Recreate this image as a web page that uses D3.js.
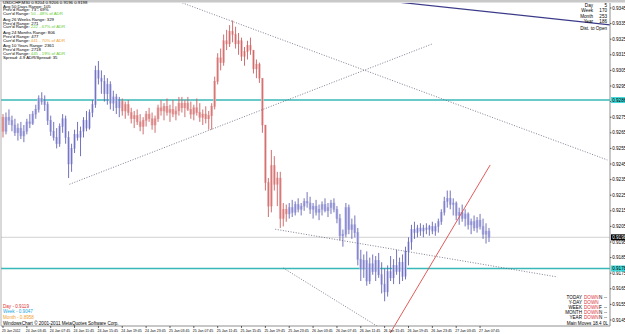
<!DOCTYPE html>
<html><head><meta charset="utf-8">
<script src="https://cdn.jsdelivr.net/npm/d3@7"></script>
<style>html,body{margin:0;padding:0;background:#fff;overflow:hidden}svg{display:block}
text{font-family:"Liberation Sans",Arial,sans-serif}</style>
</head><body><svg id="c" width="625" height="334"></svg>
<script>
const timeLabels = ["23 Jan 2012","24 Jan 03:45","24 Jan 07:45","24 Jan 11:45","24 Jan 15:45","24 Jan 19:45","24 Jan 23:45","25 Jan 03:45","25 Jan 07:45","25 Jan 11:45","25 Jan 15:45","25 Jan 19:45","25 Jan 23:45","26 Jan 03:45","26 Jan 07:45","26 Jan 11:45","26 Jan 15:45","26 Jan 19:45","26 Jan 23:45","27 Jan 03:45","27 Jan 07:45"];
const timeLabelBars = [0,8,16,24,32,40,48,56,64,72,80,88,96,104,112,120,128,136,144,152,160];
const priceTicks = [0.9145,0.9155,0.9165,0.9175,0.9185,0.9195,0.9205,0.9215,0.9225,0.9235,0.9245,0.9255,0.9265,0.9275,0.9285,0.9295,0.9305,0.9315,0.9325,0.9335,0.9345];
const high = [.9277,.9278,.9280,.9276,.9274,.9271,.9272,.9270,.9274,.9277,
.9279,.9283,.9289,.9291,.9289,.9285,.9276,.9272,.9268,.9271,
.9277,.9276,.9266,.9258,.9267,.9272,.9269,.9275,.9279,.9280,
.9286,.9308,.9311,.9305,.9302,.9300,.9298,.9292,.9290,.9288,
.9287,.9285,.9286,.9281,.9279,.9280,.9277,.9275,.9279,.9281,
.9278,.9276,.9283,.9286,.9284,.9287,.9283,.9286,.9282,.9288,
.9288,.9286,.9288,.9285,.9283,.9287,.9284,.9280,.9282,.9279,
.9284,.9301,.9316,.9319,.9328,.9331,.9334,.9337,.9333,.9329,
.9326,.9320,.9324,.9326,.9318,.9312,.9310,.9300,.9270,.9236,
.9254,.9250,.9240,.9240,.9220,.9219,.9220,.9222,.9221,.9223,
.9220,.9223,.9227,.9224,.9220,.9222,.9219,.9221,.9223,.9220,
.9222,.9223,.9218,.9213,.9203,.9220,.9219,.9210,.9212,.9204,
.9190,.9187,.9189,.9185,.9187,.9186,.9188,.9182,.9178,.9180,
.9186,.9184,.9190,.9185,.9187,.9192,.9198,.9206,.9208,.9206,
.9207,.9206,.9207,.9206,.9208,.9207,.9210,.9216,.9224,.9228,
.9228,.9223,.9221,.9217,.9219,.9216,.9214,.9210,.9212,.9211,
.9213,.9210,.9207,.9204];
const low = [.9262,.9264,.9270,.9266,.9263,.9260,.9261,.9259,.9264,.9268,
.9270,.9274,.9278,.9283,.9279,.9270,.9263,.9260,.9255,.9256,
.9265,.9258,.9236,.9240,.9252,.9260,.9250,.9262,.9266,.9267,
.9275,.9281,.9296,.9290,.9285,.9283,.9280,.9279,.9277,.9275,
.9276,.9274,.9276,.9271,.9268,.9270,.9266,.9264,.9269,.9272,
.9267,.9265,.9272,.9276,.9273,.9276,.9272,.9275,.9273,.9276,
.9278,.9275,.9279,.9274,.9273,.9276,.9272,.9270,.9271,.9267,
.9267,.9280,.9296,.9305,.9308,.9318,.9320,.9323,.9319,.9315,
.9311,.9308,.9312,.9315,.9303,.9300,.9297,.9265,.9228,.9211,
.9214,.9228,.9218,.9204,.9205,.9208,.9210,.9211,.9212,.9214,
.9212,.9215,.9217,.9213,.9210,.9212,.9209,.9212,.9214,.9211,
.9213,.9214,.9207,.9196,.9192,.9198,.9200,.9197,.9198,.9180,
.9170,.9172,.9167,.9168,.9174,.9170,.9172,.9162,.9157,.9160,
.9170,.9168,.9174,.9168,.9170,.9171,.9180,.9190,.9197,.9198,
.9199,.9198,.9200,.9199,.9200,.9199,.9201,.9206,.9212,.9217,
.9216,.9212,.9209,.9206,.9208,.9205,.9203,.9200,.9202,.9201,
.9203,.9197,.9194,.9195];
const close = [.9266,.9275,.9273,.9270,.9265,.9268,.9263,.9266,.9272,.9271,
.9277,.9280,.9287,.9285,.9283,.9273,.9266,.9262,.9258,.9269,
.9274,.9262,.9245,.9255,.9264,.9262,.9266,.9273,.9268,.9278,
.9283,.9305,.9300,.9298,.9290,.9296,.9284,.9288,.9281,.9285,
.9279,.9283,.9278,.9274,.9276,.9272,.9269,.9273,.9277,.9274,
.9270,.9274,.9281,.9279,.9282,.9278,.9280,.9277,.9279,.9284,
.9281,.9284,.9280,.9277,.9281,.9278,.9275,.9277,.9274,.9276,
.9282,.9298,.9313,.9310,.9324,.9322,.9330,.9328,.9322,.9324,
.9314,.9317,.9321,.9318,.9306,.9309,.9300,.9270,.9233,.9218,
.9244,.9232,.9236,.9210,.9216,.9213,.9217,.9214,.9219,.9216,
.9218,.9221,.9220,.9216,.9218,.9214,.9216,.9219,.9215,.9217,
.9220,.9216,.9210,.9199,.9200,.9217,.9203,.9206,.9201,.9184,
.9178,.9183,.9170,.9181,.9176,.9183,.9174,.9168,.9163,.9176,
.9172,.9180,.9176,.9182,.9173,.9189,.9195,.9203,.9201,.9204,
.9202,.9204,.9203,.9205,.9202,.9205,.9208,.9214,.9221,.9223,
.9219,.9220,.9212,.9214,.9210,.9213,.9206,.9208,.9204,.9209,
.9205,.9200,.9202,.9198];
const firstOpen = 0.9275;
const redTrendRanges = [[0,0],[40,95]];
const hLines = [0.9286, 0.9178];
const bidPrice = 0.9198;
// drawn trend objects in (bar index, price)
const dottedLines = [
  [[22.3,0.9232],[144,0.9322]],
  [[57.7,0.9350],[202.7,0.92476]],
  [[91.3,0.92032],[185.9,0.91726]],
  [[94,0.91783],[129.2,0.91367]]
];
const blueLine = [[126.5,0.9350],[203.7,0.93341]];
const redLine = [[129.9,0.91367],[163.4,0.92444]];
const infoLines = [
  ["USDCHF,M30  0.9204 0.9206 0.9196 0.9198","#000",""],
  ["Avg 50 Days Range: 105","#000",""],
  ["Prev'd Range: 73 - 69%","#000",""],
  ["Curr'd Range: ","#000","50 - 48% of ADR","#66cc33"],
  null,
  ["Avg 26 Weeks Range: 329","#000",""],
  ["Prev'd Range: 271","#000",""],
  ["Curr'd Range: ","#000","222 - 67% of ADR","#66cc33"],
  null,
  ["Avg 24 Months Range: 806","#000",""],
  ["Prev'd Range: 477","#000",""],
  ["Curr'd Range: ","#000","441 - 70% of ADR","#f0a030"],
  null,
  ["Avg 10 Years Range: 2361","#000",""],
  ["Prev'd Range: 2718","#000",""],
  ["Curr'd Range: ","#000","445 - 19% of ADR","#66cc33"],
  ["Spread: 4.9  ADR/Spread: 35","#000",""]
];
const distLabels = ["Day","Week","Month","Year"];
const distValues = ["5","170","253","186"];
const trendRows = [["TODAY","DOWN","N","--"],["Y-DAY","DOWN","",""],["WEEK","DOWN","F","--"],["MONTH","DOWN","N","--"],["YEAR","DOWN","N","--"]];
const pivotRows = [["Day","- 0.9119","#e03030"],["Week","- 0.9047","#20a8e0"],["Month","- 0.8958","#f0a030"]];

const svg = d3.select("#c");
const W=625,H=334, plotR=610, plotB=326, plotT=3;
const x = d3.scaleLinear().domain([0,163]).range([3,489]);
const y = d3.scaleLinear().domain([0.9145,0.9345]).range([320,8]);
const fs = 4.6;

svg.append("rect").attr("width",W).attr("height",H).attr("fill","#fff");
svg.append("rect").attr("x",0).attr("y",0).attr("width",W).attr("height",2.5).attr("fill","#c8c8c8");
svg.append("defs").append("clipPath").attr("id","pc").append("rect").attr("x",1).attr("y",plotT).attr("width",plotR-1).attr("height",plotB-plotT);
const g = svg.append("g").attr("clip-path","url(#pc)");

g.append("line").attr("x1",1).attr("x2",plotR).attr("y1",y(bidPrice)).attr("y2",y(bidPrice)).attr("stroke","#c8c8c8").attr("stroke-width",0.8);
hLines.forEach(p=>g.append("line").attr("x1",1).attr("x2",plotR).attr("y1",y(p)).attr("y2",y(p)).attr("stroke","#38b8b8").attr("stroke-width",1.4));

const isRed = i => redTrendRanges.some(r=>i>=r[0]&&i<=r[1]);
const bars = close.map((c,i)=>({i,o:i?close[i-1]:firstOpen,h:high[i],l:low[i],c}));
const cg = g.append("g");
bars.forEach(b=>{
  const red=isRed(b.i);
  const dark = red?"#c86060":"#6464b4", light = red?"#f0b8b8":"#c6c6f0";
  const cx=x(b.i);
  const top=y(Math.max(b.o,b.c)), bot=y(Math.min(b.o,b.c));
  cg.append("rect").attr("x",cx-1.1).attr("y",top).attr("width",2.2).attr("height",Math.max(0.6,bot-top)).attr("fill",light).attr("stroke",light).attr("stroke-width",0.5);
  cg.append("line").attr("x1",cx).attr("x2",cx).attr("y1",y(b.h)).attr("y2",y(b.l)).attr("stroke",dark).attr("stroke-width",0.9);
});

dottedLines.forEach(l=>g.append("line").attr("x1",x(l[0][0])).attr("y1",y(l[0][1])).attr("x2",x(l[1][0])).attr("y2",y(l[1][1])).attr("stroke","#606078").attr("stroke-width",0.8).attr("stroke-dasharray","1,1.6"));
g.append("line").attr("x1",x(blueLine[0][0])).attr("y1",y(blueLine[0][1])).attr("x2",x(blueLine[1][0])).attr("y2",y(blueLine[1][1])).attr("stroke","#3a3a8a").attr("stroke-width",1.2);
svg.append("line").attr("x1",x(redLine[0][0])).attr("y1",y(redLine[0][1])).attr("x2",x(redLine[1][0])).attr("y2",y(redLine[1][1])).attr("stroke","#e04848").attr("stroke-width",0.9);

svg.append("line").attr("x1",1).attr("x2",1).attr("y1",plotT).attr("y2",plotB).attr("stroke","#a0a0a0").attr("stroke-width",0.8);
svg.append("line").attr("x1",plotR).attr("x2",plotR).attr("y1",plotT).attr("y2",plotB).attr("stroke","#909090").attr("stroke-width",1);
svg.append("line").attr("x1",1).attr("x2",plotR).attr("y1",plotB).attr("y2",plotB).attr("stroke","#909090").attr("stroke-width",1);

const ya = svg.append("g");
priceTicks.forEach(p=>{
  ya.append("line").attr("x1",plotR).attr("x2",plotR+1.5).attr("y1",y(p)).attr("y2",y(p)).attr("stroke","#000").attr("stroke-width",0.6);
  ya.append("text").attr("x",plotR+2.2).attr("y",y(p)).attr("dy","0.35em").attr("font-size",fs).attr("fill","#000").text(p.toFixed(4));
});
hLines.forEach(p=>{
  ya.append("rect").attr("x",plotR+1).attr("y",y(p)-3).attr("width",14).attr("height",6).attr("fill","#40d8d8");
  ya.append("text").attr("x",plotR+2.2).attr("y",y(p)).attr("dy","0.35em").attr("font-size",fs).attr("fill","#000").text(p.toFixed(4));
});
ya.append("rect").attr("x",plotR+1).attr("y",y(bidPrice)-3).attr("width",14).attr("height",6).attr("fill","#000");
ya.append("text").attr("x",plotR+2.2).attr("y",y(bidPrice)).attr("dy","0.35em").attr("font-size",fs).attr("fill","#fff").text(bidPrice.toFixed(4));

const xa = svg.append("g");
timeLabels.forEach((t,k)=>{
  const xx = x(timeLabelBars[k]);
  xa.append("line").attr("x1",xx).attr("x2",xx).attr("y1",plotB).attr("y2",plotB+2).attr("stroke","#000").attr("stroke-width",0.6);
  xa.append("text").attr("x",xx-1).attr("y",331.5).attr("font-size",4).attr("fill","#000")
    .attr("textLength",k===0?18.5:20.5).attr("lengthAdjust","spacingAndGlyphs").text(t);
});

let ly=2.2;
infoLines.forEach(r=>{
  if(!r){ly+=1.9;return;}
  const t=svg.append("text").attr("x",3).attr("y",ly).attr("dy","0.35em").attr("font-size",4.3).attr("fill",r[1]);
  t.append("tspan").text(r[0]);
  if(r[2]) t.append("tspan").attr("fill",r[3]).text(r[2]);
  ly+=3.8;
});

distLabels.forEach((d,k)=>{
  svg.append("text").attr("x",593).attr("y",5.5+k*5.2).attr("dy","0.35em").attr("text-anchor","end").attr("font-size",fs).attr("fill","#000").text(d);
  svg.append("text").attr("x",607).attr("y",5.5+k*5.2).attr("dy","0.35em").attr("text-anchor","end").attr("font-size",fs).attr("fill","#000").text(distValues[k]);
});
svg.append("text").attr("x",607).attr("y",28).attr("dy","0.35em").attr("text-anchor","end").attr("font-size",fs).attr("fill","#000").text("Dist. to Open");

trendRows.forEach((r,k)=>{
  const yy=297+k*5.2;
  svg.append("text").attr("x",582).attr("y",yy).attr("dy","0.35em").attr("text-anchor","end").attr("font-size",fs).attr("fill","#000").text(r[0]);
  svg.append("text").attr("x",584).attr("y",yy).attr("dy","0.35em").attr("font-size",fs).attr("fill","#d83040").text(r[1]);
  svg.append("text").attr("x",599).attr("y",yy).attr("dy","0.35em").attr("font-size",fs).attr("fill","#000").text(r[2]);
  svg.append("text").attr("x",604).attr("y",yy).attr("dy","0.35em").attr("font-size",fs).attr("fill","#000").text(r[3]);
});
svg.append("text").attr("x",608).attr("y",323.2).attr("dy","0.35em").attr("text-anchor","end").attr("font-size",fs).attr("fill","#000").text("Main Moves    18.4 0L");

pivotRows.forEach((r,k)=>{
  svg.append("text").attr("x",3).attr("y",306+k*5.6).attr("dy","0.35em").attr("font-size",fs).attr("fill",r[2]).text(r[0]+"   "+r[1]);
});
svg.append("text").attr("x",3).attr("y",323).attr("dy","0.35em").attr("font-size",fs).attr("fill","#000").text("WindowsChart  © 2001-2011 MetaQuotes Software Corp.");
</script></body></html>
